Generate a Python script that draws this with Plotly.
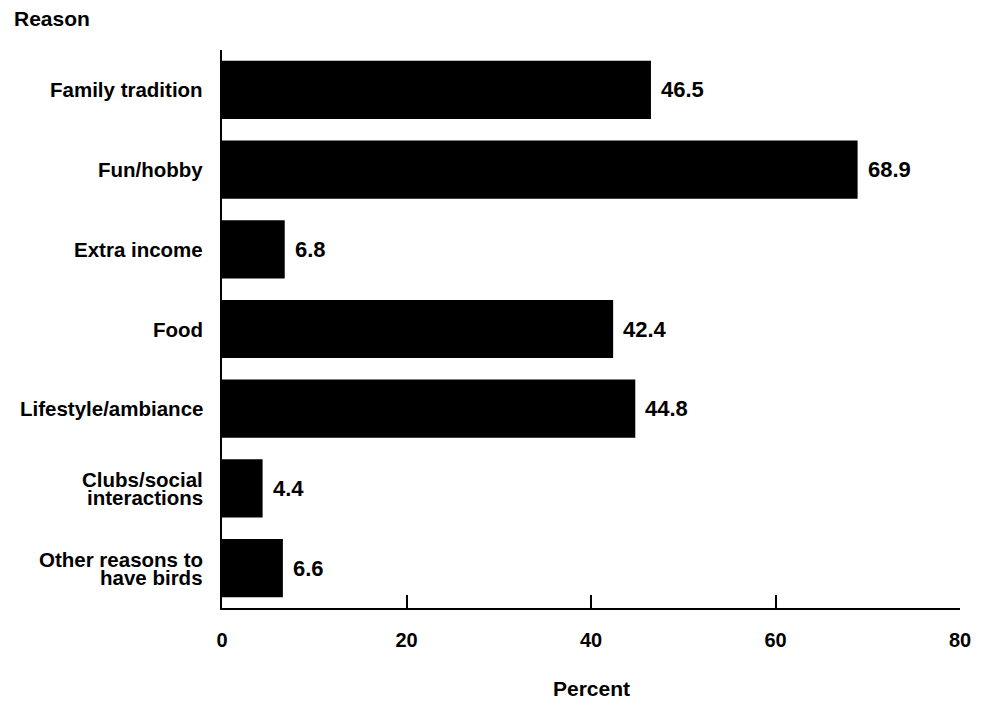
import plotly.graph_objects as go

categories = ["Family tradition", "Fun/hobby", "Extra income", "Food",
              "Lifestyle/ambiance", "Clubs/social<br>interactions",
              "Other reasons to<br>have birds"]
values = [46.5, 68.9, 6.8, 42.4, 44.8, 4.4, 6.6]
x_ticks = [0, 20, 40, 60, 80]

LBL_FONT = dict(family="Liberation Sans, Arial", size=20.5, color="black", weight="bold")
NUM_FONT = dict(family="Liberation Sans, Arial", size=22, color="black", weight="bold")
HEAD_FONT = dict(family="Liberation Sans, Arial", size=21, color="black", weight="bold")

# page body has an 8px margin; compensate
W, H = 980, 697
ml, mr, mt, mb = 214, 28, 42, 97
ph = H - mt - mb
pw = W - ml - mr

fig = go.Figure(go.Bar(
    x=values, y=list(range(len(categories))), orientation="h",
    marker=dict(color="black", line=dict(width=0)), width=0.73,
    hoverinfo="skip",
))

annotations = []
for i, (cat, v) in enumerate(zip(categories, values)):
    lines = cat.split("<br>")
    n = len(lines)
    for j, ln in enumerate(lines):
        annotations.append(dict(
            x=0, xref="x", y=i, yref="y", text=ln, showarrow=False,
            xanchor="right", yanchor="middle", xshift=-17,
            yshift=((n - 1) / 2 - j) * 18, font=LBL_FONT))
    annotations.append(dict(
        x=v, xref="x", y=i, yref="y", text=f"{v:.1f}", showarrow=False,
        xanchor="left", yanchor="middle", xshift=8, font=NUM_FONT))

annotations.append(dict(x=(4 - ml) / pw, xref="paper", y=1 + (mt - 11) / ph, yref="paper",
                        text="Reason", showarrow=False, xanchor="left", yanchor="middle",
                        font=HEAD_FONT))
annotations.append(dict(x=40, xref="x", y=0, yref="paper", text="Percent",
                        showarrow=False, xanchor="center", yanchor="middle", yshift=-80,
                        font=HEAD_FONT))

fig.update_layout(
    width=W, height=H,
    margin=dict(l=ml, r=mr, t=mt, b=mb, pad=0),
    plot_bgcolor="white", paper_bgcolor="white",
    showlegend=False,
    annotations=annotations,
    xaxis=dict(range=[0, 80], tickvals=x_ticks, ticktext=[str(t) for t in x_ticks],
               showgrid=False, zeroline=False, showline=True, linecolor="black", linewidth=2,
               ticks="inside", ticklen=13, tickwidth=2, tickcolor="black",
               tickfont=dict(family="Liberation Sans, Arial", size=20, color="black", weight="bold"),
               ticklabelstandoff=13, fixedrange=True),
    yaxis=dict(range=[6.5, -0.5], showticklabels=False, showgrid=False, zeroline=False,
               showline=True, linecolor="black", linewidth=2, ticks="", fixedrange=True),
)

fig.write_html("out.html")
